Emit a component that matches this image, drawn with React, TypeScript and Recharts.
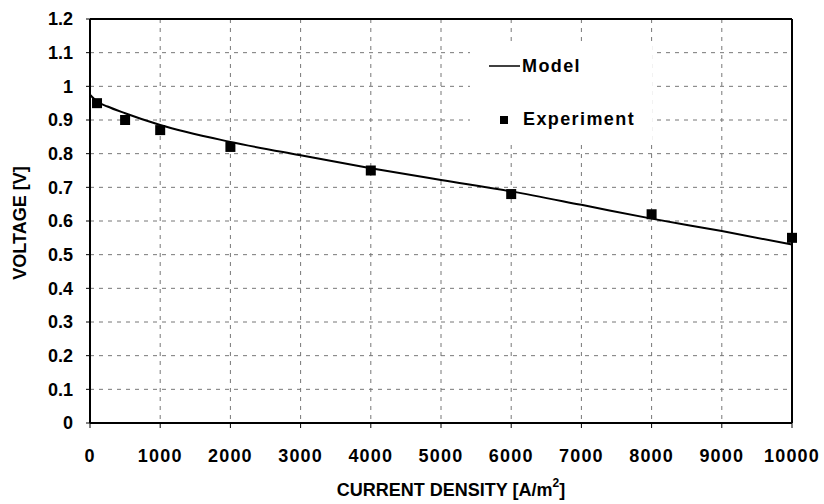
import {
  ComposedChart,
  Line,
  Scatter,
  XAxis,
  YAxis,
  CartesianGrid,
  ReferenceLine,
  Legend,
} from "recharts";

// model curve
const modelX = [0, 100, 250, 500, 1000, 2000, 3000, 4000, 5000, 6000, 7000, 8000, 9000, 10000];
const modelV = [0.975, 0.955, 0.94, 0.92, 0.885, 0.835, 0.795, 0.757, 0.722, 0.688, 0.648, 0.607, 0.57, 0.53];

// measured points
const expX = [100, 500, 1000, 2000, 4000, 6000, 8000, 10000];
const expV = [0.95, 0.9, 0.87, 0.82, 0.75, 0.68, 0.62, 0.55];

const xTicks = [0, 1000, 2000, 3000, 4000, 5000, 6000, 7000, 8000, 9000, 10000];
const yTicks = [0, 0.1, 0.2, 0.3, 0.4, 0.5, 0.6, 0.7, 0.8, 0.9, 1, 1.1, 1.2];

const modelData = modelX.map((x, i) => ({ x, v: modelV[i] }));
const expData = expX.map((x, i) => ({ x, v: expV[i] }));

const FONT = "'Liberation Sans', Arial, sans-serif";
const yTickStyle = { fontFamily: FONT, fontSize: 18, fontWeight: 700, fill: "#000" };
const xTickStyle = { ...yTickStyle, letterSpacing: 1.2 };

interface ShapeProps {
  cx?: number;
  cy?: number;
}

function SquareDot({ cx = 0, cy = 0 }: ShapeProps) {
  return <rect x={cx - 5} y={cy - 5} width={10} height={10} fill="#000" />;
}

function ChartLegend() {
  return (
    <div
      style={{
        background: "#fff",
        width: 182,
        height: 100,
        position: "relative",
        fontFamily: FONT,
        fontWeight: 700,
        fontSize: 18,
        letterSpacing: 1.4,
        lineHeight: "20px",
        color: "#000",
      }}
    >
      <svg width={182} height={100} style={{ position: "absolute", left: 0, top: 0 }}>
        <line x1={19} x2={50} y1={25} y2={25} stroke="#000" strokeWidth={1.5} />
        <rect x={30} y={75} width={8} height={8} fill="#000" />
      </svg>
      <span style={{ position: "absolute", left: 52, top: 15 }}>Model</span>
      <span style={{ position: "absolute", left: 53, top: 68 }}>Experiment</span>
    </div>
  );
}

export default function App() {
  return (
    <div style={{ position: "absolute", left: 0, top: 0, width: 824, height: 504, background: "#fff" }}>
      <ComposedChart width={824} height={504} margin={{ top: 19, right: 32, bottom: 0, left: 0 }}>
        <CartesianGrid stroke="#777" strokeDasharray="4 5" strokeWidth={1} />
        <XAxis
          type="number"
          dataKey="x"
          domain={[0, 10000]}
          ticks={xTicks}
          tick={xTickStyle}
          tickSize={5}
          tickMargin={21}
          height={81}
          stroke="#000"
          strokeWidth={2}
          tickLine={{ stroke: "#000", strokeWidth: 1 }}
          label={{
            content: () => (
              <text
                x={451}
                y={490}
                textAnchor="middle"
                dominantBaseline="central"
                style={{ fontFamily: FONT, fontSize: 18, fontWeight: 700 }}
              >
                CURRENT DENSITY [A/m
                <tspan dy={-7} fontSize={12}>2</tspan>
                <tspan dy={7}>]</tspan>
              </text>
            ),
          }}
        />
        <YAxis
          type="number"
          dataKey="v"
          domain={[0, 1.2]}
          ticks={yTicks}
          tickFormatter={(v: number) => String(Math.round(v * 10) / 10)}
          tick={yTickStyle}
          tickSize={4}
          tickMargin={13}
          width={90}
          stroke="#000"
          strokeWidth={2}
          tickLine={{ stroke: "#000", strokeWidth: 1 }}
          label={{
            content: () => (
              <text
                x={20}
                y={223}
                transform="rotate(-90 20 223)"
                textAnchor="middle"
                dominantBaseline="central"
                style={{ fontFamily: FONT, fontSize: 18, fontWeight: 700 }}
              >
                VOLTAGE [V]
              </text>
            ),
          }}
        />
        <ReferenceLine y={1.2} stroke="#000" strokeWidth={2} />
        <ReferenceLine x={10000} stroke="#000" strokeWidth={2} />
        <Legend
          layout="horizontal"
          verticalAlign="middle"
          align="center"
          content={() => <ChartLegend />}
          wrapperStyle={{ position: "absolute", left: 470, top: 41, width: 182, height: 100 }}
        />
        <Line
          data={modelData}
          dataKey="v"
          type="monotone"
          stroke="#000"
          strokeWidth={2}
          dot={false}
          isAnimationActive={false}
        />
        <Scatter data={expData} dataKey="v" shape={<SquareDot />} isAnimationActive={false} />
      </ComposedChart>
    </div>
  );
}
